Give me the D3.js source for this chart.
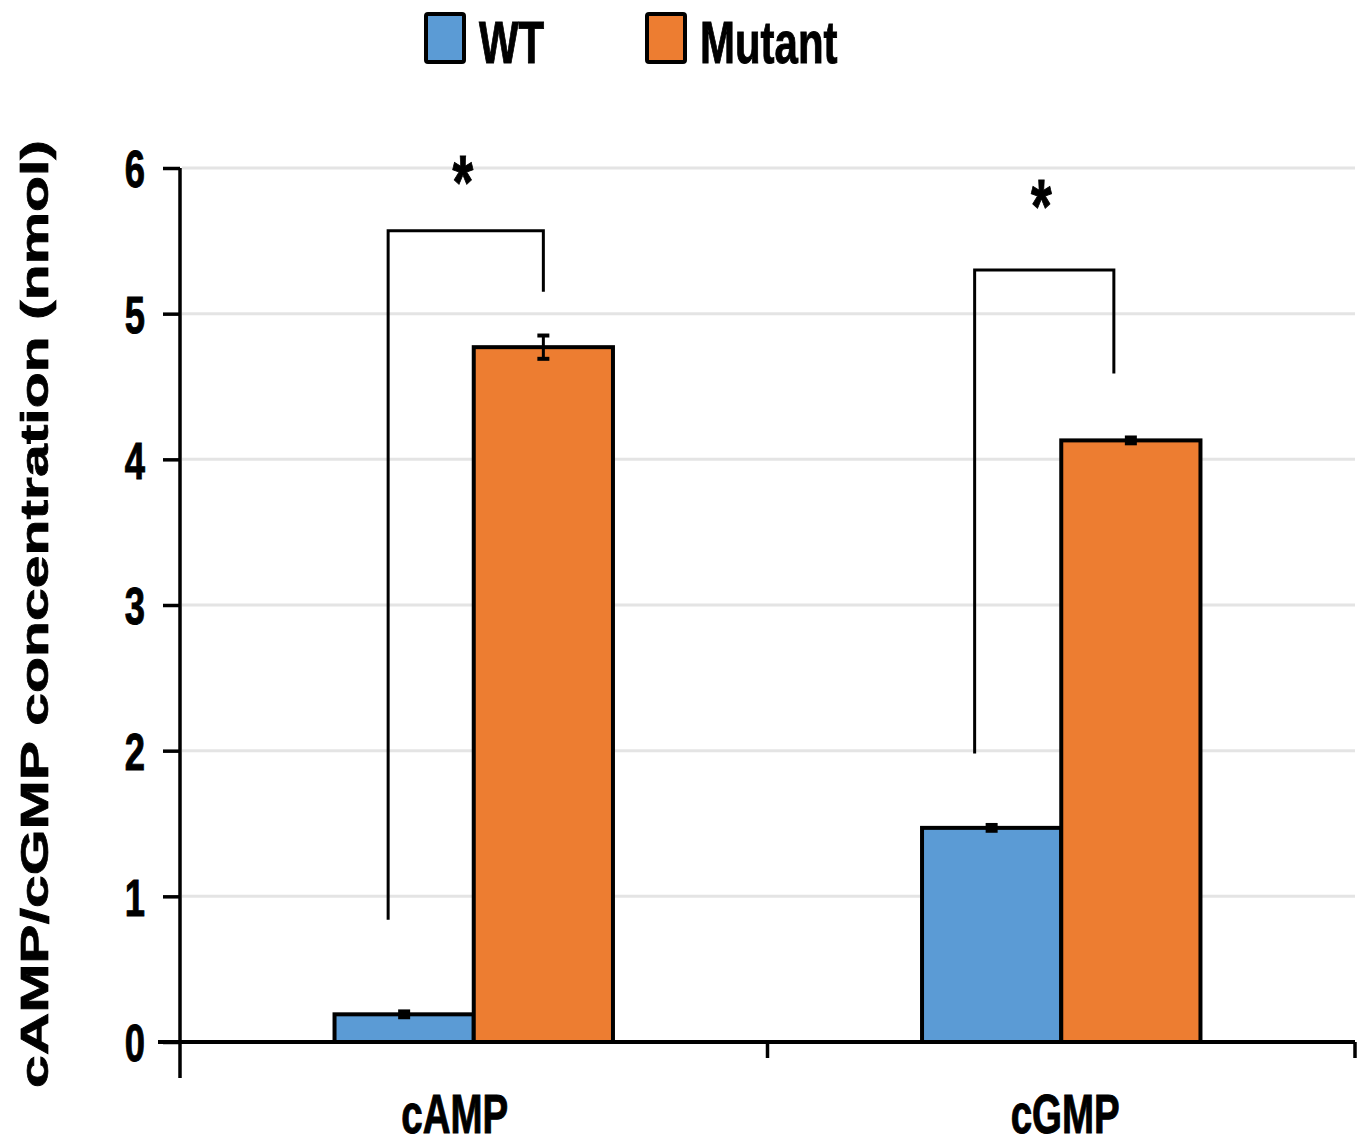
<!doctype html>
<html>
<head>
<meta charset="utf-8" />
<script src="https://cdn.jsdelivr.net/npm/d3@7"></script>
<style>
  body { margin: 0; background: #fff; }
  svg { display: block; }
  text { font-family: "Liberation Sans", Arial, sans-serif; font-weight: bold; fill: #000; stroke: #000; stroke-width: 1px; }
</style>
</head>
<body>
<svg id="chart" width="1363" height="1145"></svg>
<script>
// data
var categories = ["cAMP", "cGMP"];
var seriesNames = ["WT", "Mutant"];
var wtValues = [0.19, 1.47];
var mutantValues = [4.77, 4.13];
var wtErrors = [0.02, 0.02];
var mutantErrors = [0.08, 0.02];
var yTicks = [0, 1, 2, 3, 4, 5, 6];
// significance brackets (value units)
var bracketLeftBottom = [0.84, 1.98];
var bracketTop = [5.57, 5.30];
var bracketRightBottom = [5.15, 4.59];
var starLevel = [5.97, 5.81];
var bracketStars = ["*", "*"];

var colors = { WT: "#5b9bd5", Mutant: "#ed7d31" };
var sx = 0.7; // horizontal squeeze of the original figure

var svg = d3.select("#chart");

var x0 = d3.scaleBand().domain(categories).range([180, 1355]).padding(0);
var x1 = d3.scaleBand().domain(seriesNames).range([0, x0.bandwidth()])
  .paddingInner(0).paddingOuter(1.11);
var y = d3.scaleLinear().domain([0, 6]).range([1042, 168]);

// grid
svg.append("g").selectAll("line").data(yTicks.filter(function (d) { return d > 0; }))
  .join("line")
  .attr("x1", 182).attr("x2", 1355)
  .attr("y1", function (d) { return y(d); }).attr("y2", function (d) { return y(d); })
  .attr("stroke", "#e4e4e4").attr("stroke-width", 3);

// bars
var rows = categories.map(function (c, i) {
  return [
    { cat: c, s: "WT", v: wtValues[i], e: wtErrors[i] },
    { cat: c, s: "Mutant", v: mutantValues[i], e: mutantErrors[i] }
  ];
});

var groups = svg.append("g").selectAll("g").data(rows).join("g")
  .attr("transform", function (d) { return "translate(" + x0(d[0].cat) + ",0)"; });

groups.selectAll("rect").data(function (d) { return d; }).join("rect")
  .attr("x", function (d) { return x1(d.s); })
  .attr("y", function (d) { return y(d.v); })
  .attr("width", x1.bandwidth())
  .attr("height", function (d) { return y(0) - y(d.v); })
  .attr("fill", function (d) { return colors[d.s]; })
  .attr("stroke", "#000").attr("stroke-width", 4);

// error bars
var eb = groups.selectAll("g.err").data(function (d) { return d; }).join("g").attr("class", "err")
  .attr("transform", function (d) { return "translate(" + (x1(d.s) + x1.bandwidth() / 2) + ",0)"; });
eb.append("line")
  .attr("y1", function (d) { return y(d.v + d.e); }).attr("y2", function (d) { return y(d.v - d.e); })
  .attr("stroke", "#000").attr("stroke-width", 3);
eb.append("line").attr("x1", -6).attr("x2", 6)
  .attr("y1", function (d) { return y(d.v + d.e); }).attr("y2", function (d) { return y(d.v + d.e); })
  .attr("stroke", "#000").attr("stroke-width", 4);
eb.append("line").attr("x1", -6).attr("x2", 6)
  .attr("y1", function (d) { return y(d.v - d.e); }).attr("y2", function (d) { return y(d.v - d.e); })
  .attr("stroke", "#000").attr("stroke-width", 4);

// axes
var yAxis = svg.append("g").attr("transform", "translate(180,0)")
  .call(d3.axisLeft(y).tickValues(yTicks).tickSize(17).tickPadding(0).tickFormat(d3.format("d")));
yAxis.select(".domain").remove();
yAxis.selectAll(".tick line").attr("stroke", "#000").attr("stroke-width", 3.5);
yAxis.selectAll(".tick text")
  .attr("x", -35 / sx).attr("dy", "0.36em")
  .attr("transform", "scale(" + sx + ",1)")
  .style("font-size", "52px");
yAxis.append("line").attr("x1", 0).attr("x2", 0).attr("y1", y(6)).attr("y2", 1078)
  .attr("stroke", "#000").attr("stroke-width", 3.5);

var xAxis = svg.append("g").attr("transform", "translate(0," + y(0) + ")");
xAxis.append("line").attr("x1", 158).attr("x2", 1355)
  .attr("stroke", "#000").attr("stroke-width", 4);
xAxis.selectAll("line.tk").data(categories).join("line").attr("class", "tk")
  .attr("x1", function (d) { return x0(d) + x0.bandwidth(); })
  .attr("x2", function (d) { return x0(d) + x0.bandwidth(); })
  .attr("y1", 0).attr("y2", 16)
  .attr("stroke", "#000").attr("stroke-width", 3.5);
var labelNudge = [-19, 4];
xAxis.selectAll("text").data(categories).join("text")
  .attr("transform", function (d, i) {
    return "translate(" + (x0(d) + x0.bandwidth() / 2 + labelNudge[i]) + ",91) scale(" + sx + ",1)";
  })
  .attr("text-anchor", "middle")
  .style("font-size", "55px")
  .text(function (d) { return d; });

// y title
svg.append("text")
  .attr("transform", "translate(48,614) scale(0.68,1) rotate(-90)")
  .attr("text-anchor", "middle")
  .attr("textLength", 948).attr("lengthAdjust", "spacingAndGlyphs")
  .style("font-size", "58px")
  .text("cAMP/cGMP concentration (nmol)");

// significance brackets
var bracketNudge = [[-16, 0], [-17, -17]];
categories.forEach(function (c, i) {
  var xl = x0(c) + x1("WT") + x1.bandwidth() / 2 + bracketNudge[i][0];
  var xr = x0(c) + x1("Mutant") + x1.bandwidth() / 2 + bracketNudge[i][1];
  var pts = [[xl, y(bracketLeftBottom[i])], [xl, y(bracketTop[i])], [xr, y(bracketTop[i])], [xr, y(bracketRightBottom[i])]];
  svg.append("path").attr("d", d3.line()(pts))
    .attr("fill", "none").attr("stroke", "#000").attr("stroke-width", 3);
  svg.append("text")
    .attr("transform", "translate(" + ((xl + xr) / 2 - 3) + "," + (y(starLevel[i]) + 36) + ") scale(" + sx + ",1)")
    .attr("text-anchor", "middle")
    .style("font-size", "76px")
    .text(bracketStars[i]);
});

// legend
var legX = [426, 647];
var leg = svg.append("g").selectAll("g").data(seriesNames).join("g")
  .attr("transform", function (d, i) { return "translate(" + legX[i] + ",0)"; });
leg.append("rect").attr("x", 0).attr("y", 14).attr("width", 38).attr("height", 48).attr("rx", 2)
  .attr("fill", function (d) { return colors[d]; })
  .attr("stroke", "#000").attr("stroke-width", 4);
leg.append("text")
  .attr("transform", "translate(" + 53 + ",63) scale(" + sx + ",1)")
  .style("font-size", "60px")
  .text(function (d) { return d; });
</script>
</body>
</html>
